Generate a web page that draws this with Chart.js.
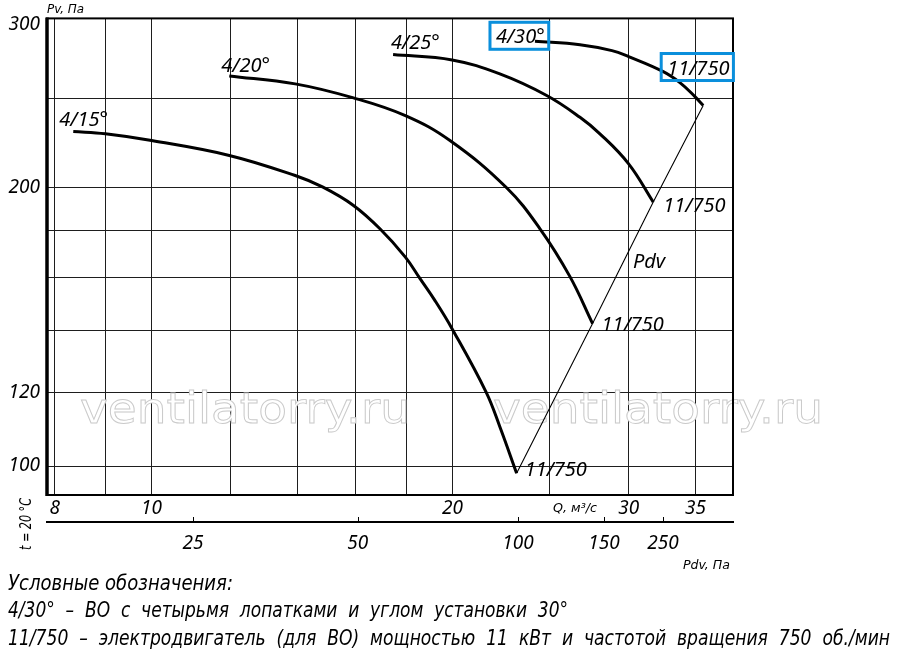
<!DOCTYPE html>
<html>
<head>
<meta charset="utf-8">
<script src="https://cdn.jsdelivr.net/npm/chart.js@4.4.1/dist/chart.umd.min.js"></script>
<style>
  html, body { margin: 0; padding: 0; background: #fff; }
  #wrap { width: 900px; height: 654px; }
</style>
</head>
<body>
<div id="wrap"><canvas id="fanChart" width="900" height="654"></canvas></div>
<script>
// Q, м3/с и Pv, Па для каждой кривой (угол установки лопаток)
var q15 = [8.35, 8.99, 10.0, 11.96, 13.92, 14.84, 15.92, 16.92, 17.94, 18.55, 19.2, 19.97, 21.6, 22.3, 23.18];
var pv15 = [230.1, 228.8, 225.0, 216.8, 206.2, 200.3, 191.4, 180.6, 168.3, 159.6, 151.1, 140.9, 120.3, 110.3, 98.2];
var q20 = [11.96, 13.92, 15.92, 17.94, 19.88, 22.65, 24.46, 26.2, 27.61];
var pv20 = [264.3, 259.1, 250.2, 239.4, 225.0, 200.0, 180.6, 160.4, 142.6];
var q25 = [17.44, 19.98, 22.3, 24.84, 26.82, 28.08, 30.0, 31.75];
var pv25 = [278.7, 275.0, 265.6, 251.7, 238.4, 228.8, 212.3, 193.0];
var q30 = [24.18, 26.82, 28.87, 30.0, 32.49, 33.76, 34.95, 35.62];
var pv30 = [288.1, 285.7, 281.5, 277.3, 267.1, 259.9, 251.0, 245.5];

// оси
var qMin = 7.86, qMax = 38.15;
var pvMin = 93.04, pvMax = 305;
var qGrid = [8, 9, 10, 12, 14, 16, 18, 20, 25, 30, 35];
var qLabels = [8, 10, 20, 30, 35];
var pvGrid = [100, 120, 140, 160, 180, 200, 250, 300];
var pvLabels = [100, 120, 200, 300];
var pdvLabels = [25, 50, 100, 150, 250];
var pdvAtQ = [11.0, 16.08, 23.25, 28.34, 32.47];

var curves = [
  { name: '4/15°', q: q15, pv: pv15 },
  { name: '4/20°', q: q20, pv: pv20 },
  { name: '4/25°', q: q25, pv: pv25 },
  { name: '4/30°', q: q30, pv: pv30 }
];

function pts(qs, ps) {
  return qs.map(function (v, i) { return { x: v, y: ps[i] }; });
}

// линия Pdv проходит через концы кривых
var pdvLine = curves.map(function (c) {
  return { x: c.q[c.q.length - 1], y: c.pv[c.pv.length - 1] };
});

var datasets = curves.map(function (c) {
  return {
    label: c.name,
    data: pts(c.q, c.pv),
    borderColor: '#000',
    borderWidth: 3,
    pointRadius: 0,
    tension: 0.4,
    fill: false
  };
});
datasets.push({
  label: 'Pdv',
  data: pdvLine,
  borderColor: '#000',
  borderWidth: 1.1,
  pointRadius: 0,
  tension: 0,
  fill: false
});

var tickFont = { family: "'Noto Sans', 'DejaVu Sans', sans-serif", style: 'italic', size: 19 };
var labelFont = "italic 20px 'Noto Sans', 'DejaVu Sans', sans-serif";
var smallFont = "italic 13px 'Liberation Sans Narrow', 'DejaVu Sans Condensed', 'Noto Sans', sans-serif";
var noteFont = "italic 21px 'Liberation Sans Narrow', 'DejaVu Sans Condensed', 'Noto Sans', sans-serif";

// подписи у кривых: смещения от начальной/конечной точки
var curveTags = [
  { text: '4/15°', ci: 0, end: false, dx: -14, dy: -6 },
  { text: '4/20°', ci: 1, end: false, dx: -8, dy: -4 },
  { text: '4/25°', ci: 2, end: false, dx: -2, dy: -6 },
  { text: '4/30°', ci: 3, end: false, dx: -39, dy: 2, box: true },
  { text: '11/750', ci: 0, end: true, dx: 8, dy: 3 },
  { text: '11/750', ci: 1, end: true, dx: 9, dy: 7 },
  { text: '11/750', ci: 2, end: true, dx: 10, dy: 10 },
  { text: '11/750', ci: 3, end: true, dx: -36, dy: -31, box: true }
];

var notes = [
  { text: 'Условные обозначения:', y: 590, w: 225 },
  { text: '4/30°  –  ВО  с  четырьмя  лопатками  и  углом  установки  30°', y: 617, w: 560 },
  { text: '11/750  –  электродвигатель  (для  ВО)  мощностью  11  кВт  и  частотой  вращения  750  об./мин', y: 645, w: 882 }
];

function fitText(ctx, text, x, y, w, stroke) {
  var m = ctx.measureText(text).width;
  ctx.save();
  ctx.translate(x, y);
  ctx.scale(w / m, 1);
  ctx.fillText(text, 0, 0);
  if (stroke) ctx.strokeText(text, 0, 0);
  ctx.restore();
}

var decor = {
  id: 'decor',
  beforeDatasetsDraw: function (chart) {
    var ctx = chart.ctx;
    ctx.save();
    ctx.font = "42px 'DejaVu Sans', sans-serif";
    ctx.textBaseline = 'alphabetic';
    ctx.fillStyle = '#fff';
    ctx.strokeStyle = '#cacaca';
    ctx.lineWidth = 0.9;
    [80, 493].forEach(function (x) {
      fitText(ctx, 'ventilatorry.ru', x, 423, 330, true);
    });
    ctx.restore();
  },
  afterDraw: function (chart) {
    var ctx = chart.ctx;
    var a = chart.chartArea;
    var xs = chart.scales.x, ys = chart.scales.y, ps = chart.scales.pdv;
    ctx.save();
    // рамка
    ctx.strokeStyle = '#000';
    ctx.lineWidth = 2;
    ctx.strokeRect(a.left, a.top, a.right - a.left, a.bottom - a.top);
    ctx.lineWidth = 3.5;
    ctx.beginPath();
    ctx.moveTo(a.left, a.top - 1);
    ctx.lineTo(a.left, a.bottom + 1);
    ctx.stroke();
    // засечки шкалы Pdv (вверх от линии)
    ctx.lineWidth = 1;
    pdvAtQ.forEach(function (v) {
      var px = Math.round(ps.getPixelForValue(v)) + 0.5;
      ctx.beginPath();
      ctx.moveTo(px, ps.top - 5);
      ctx.lineTo(px, ps.top);
      ctx.stroke();
    });
    // подписи кривых
    ctx.fillStyle = '#000';
    ctx.font = labelFont;
    ctx.textBaseline = 'alphabetic';
    curveTags.forEach(function (t) {
      var c = curves[t.ci];
      var i = t.end ? c.q.length - 1 : 0;
      var x = xs.getPixelForValue(c.q[i]) + t.dx;
      var y = ys.getPixelForValue(c.pv[i]) + t.dy;
      ctx.fillText(t.text, x, y);
      if (t.box) {
        var w = ctx.measureText(t.text).width;
        ctx.save();
        ctx.strokeStyle = '#0a8fdc';
        ctx.lineWidth = 3;
        ctx.strokeRect(x - 6, y - 21, w + 10, 27);
        ctx.restore();
      }
    });
    // Pdv
    var mx = (xs.getPixelForValue(pdvLine[1].x) + xs.getPixelForValue(pdvLine[2].x)) / 2;
    var my = (ys.getPixelForValue(pdvLine[1].y) + ys.getPixelForValue(pdvLine[2].y)) / 2;
    ctx.fillText('Pdv', mx + 10, my + 5);
    // названия осей
    ctx.font = smallFont;
    fitText(ctx, 'Pv, Па', a.left, 13, 37);
    fitText(ctx, 'Q, м³/с', 553, 512, 44);
    fitText(ctx, 'Pdv, Па', 683, 569, 47);
    ctx.save();
    ctx.translate(31, 550);
    ctx.rotate(-Math.PI / 2);
    ctx.font = "italic 16px 'Liberation Sans Narrow', 'DejaVu Sans Condensed', sans-serif";
    fitText(ctx, 't = 20 °C', 0, 0, 52);
    ctx.restore();
    // условные обозначения
    ctx.font = noteFont;
    notes.forEach(function (n) {
      fitText(ctx, n.text, 8, n.y, n.w);
    });
    ctx.restore();
  }
};

new Chart(document.getElementById('fanChart').getContext('2d'), {
  type: 'line',
  data: { datasets: datasets },
  options: {
    responsive: false,
    animation: false,
    layout: { padding: { left: 0, top: 18, right: 167, bottom: 92 } },
    plugins: { legend: { display: false }, tooltip: { enabled: false } },
    scales: {
      x: {
        type: 'logarithmic',
        position: 'bottom',
        weight: 0,
        min: qMin,
        max: qMax,
        afterBuildTicks: function (s) { s.ticks = qGrid.map(function (v) { return { value: v }; }); },
        afterFit: function (s) { s.height = 27; },
        border: { display: false },
        grid: { color: '#1e1e1e', lineWidth: 1, drawTicks: false },
        ticks: {
          autoSkip: false,
          maxRotation: 0,
          padding: 2,
          color: '#000',
          font: tickFont,
          callback: function (v) { return qLabels.indexOf(v) >= 0 ? String(v) : ''; }
        }
      },
      pdv: {
        type: 'logarithmic',
        position: 'bottom',
        weight: 1,
        min: qMin,
        max: qMax,
        afterBuildTicks: function (s) { s.ticks = pdvAtQ.map(function (v) { return { value: v }; }); },
        afterFit: function (s) { s.height = 40; },
        border: { display: true, color: '#000', width: 2 },
        grid: { display: false, drawTicks: false },
        ticks: {
          autoSkip: false,
          maxRotation: 0,
          padding: 10,
          color: '#000',
          font: tickFont,
          callback: function (v, i) { return String(pdvLabels[i]); }
        }
      },
      y: {
        type: 'logarithmic',
        position: 'left',
        min: pvMin,
        max: pvMax,
        afterBuildTicks: function (s) { s.ticks = pvGrid.map(function (v) { return { value: v }; }); },
        afterFit: function (s) { s.width = 47; },
        border: { display: false },
        grid: {
          drawTicks: false,
          lineWidth: 1,
          color: function (c) { return c.tick && c.tick.value === 300 ? 'rgba(0,0,0,0)' : '#1e1e1e'; }
        },
        ticks: {
          autoSkip: false,
          padding: 7,
          color: '#000',
          font: tickFont,
          callback: function (v) { return pvLabels.indexOf(v) >= 0 ? String(v) : ''; }
        }
      }
    }
  },
  plugins: [decor]
});
</script>
</body>
</html>
